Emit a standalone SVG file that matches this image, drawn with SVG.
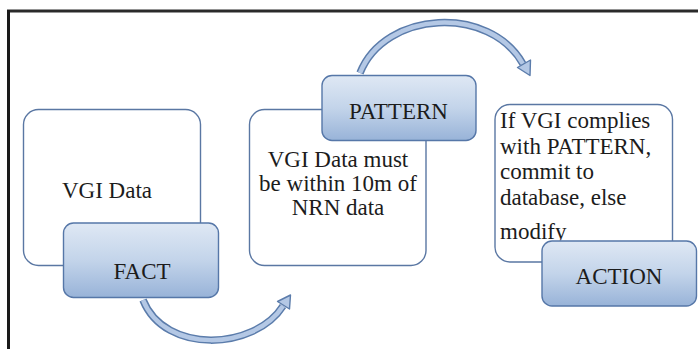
<svg xmlns="http://www.w3.org/2000/svg" width="698" height="349" viewBox="0 0 698 349">
<defs>
<linearGradient id="tab" x1="0" y1="0" x2="0" y2="1">
<stop offset="0" stop-color="#dfe8f4"/>
<stop offset="0.5" stop-color="#c3d4ea"/>
<stop offset="1" stop-color="#98b3d8"/>
</linearGradient>
<clipPath id="c3"><rect x="495" y="104" width="178" height="136.5"/></clipPath>
</defs>
<style>
.box{fill:#ffffff;stroke:#5a77a3;stroke-width:1.4}
.tab{fill:url(#tab);stroke:#5677a8;stroke-width:1.4}
.t{font-family:"Liberation Serif","Times New Roman",serif;font-size:23px;fill:#1c1c1c}
.c{text-anchor:middle}
.bandO{fill:none;stroke:#5b7cab;stroke-width:7.5;stroke-linecap:butt}
.bandI{fill:none;stroke:#b4c8e5;stroke-width:4.5;stroke-linecap:butt}
.head{fill:#b4c8e5;stroke:#5b7cab;stroke-width:1.4;stroke-linejoin:round}
</style>
<rect x="0" y="0" width="698" height="349" fill="#ffffff"/>
<g id="frame">
<line x1="7" y1="11" x2="698" y2="11" stroke="#2a2a2a" stroke-width="3"/>
<line x1="8.5" y1="10" x2="8.5" y2="349" stroke="#1a1a1a" stroke-width="3"/>
</g>
<g id="connectors">
<path class="bandO" d="M143,300 C165,355 255,350 283,306"/>
<path class="bandI" d="M143,300 C165,355 255,350 283,306"/>
<polygon class="head" points="290.5,295 289.5,309 277.5,301.5"/>
<path class="bandO" d="M360,73 C385,10 490,5 523,64"/>
<path class="bandI" d="M360,73 C385,10 490,5 523,64"/>
<polygon class="head" points="530,75.5 517.5,67.5 530.5,60"/>
</g>
<g id="node-fact">
<rect class="box" x="23.5" y="109.5" width="177" height="156" rx="15"/>
<text class="t c" x="107" y="198">VGI Data</text>
<rect class="tab" x="63.5" y="223" width="155" height="74.5" rx="10"/>
<text class="t c" x="142" y="279">FACT</text>
</g>
<g id="node-pattern">
<rect class="box" x="249.5" y="109.5" width="176.5" height="156" rx="15"/>
<text class="t c" x="338" y="167">VGI Data must</text>
<text class="t c" x="338" y="191">be within 10m of</text>
<text class="t c" x="338" y="215">NRN data</text>
<rect class="tab" x="322" y="75.5" width="154" height="65" rx="10"/>
<text class="t c" x="398.5" y="119">PATTERN</text>
</g>
<g id="node-action">
<rect class="box" x="495" y="104.5" width="177.5" height="157.5" rx="15"/>
<g clip-path="url(#c3)">
<text class="t" x="500" y="128">If VGI complies</text>
<text class="t" x="500" y="154">with PATTERN,</text>
<text class="t" x="500" y="179">commit to</text>
<text class="t" x="500" y="205">database, else</text>
<text class="t" x="500" y="239">modify</text>
</g>
<rect class="tab" x="542" y="241" width="154.5" height="65" rx="10"/>
<text class="t c" x="619" y="284">ACTION</text>
</g>
</svg>
